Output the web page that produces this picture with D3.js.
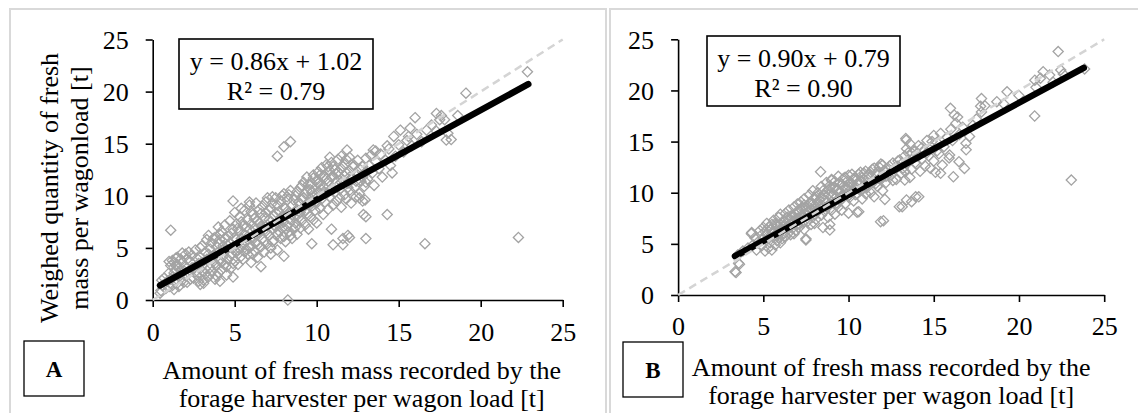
<!DOCTYPE html>
<html>
<head>
<meta charset="utf-8">
<script src="https://cdn.jsdelivr.net/npm/d3@7"></script>
<style>
  body { margin: 0; background: #fff; }
  svg { display: block; }
  text { font-family: "Liberation Serif", "Times New Roman", serif; fill: #000; }
</style>
</head>
<body>
<svg id="chart" width="1138" height="413"></svg>
<script>
// Axis ticks shared by both panels (t)
const axisTicks = [0, 5, 10, 15, 20, 25];

// Panel A: harvester-recorded mass (x) vs weighed mass (y), t
const pointsA = [
  [0.5,0.9],[0.6,1.4],[0.7,2.1],[0.8,1.1],[0.9,1.8],[1.0,2.6],[1.0,1.3],[1.1,3.3],[1.2,3.8],[1.2,2.2],
  [1.3,3.6],[1.3,1.0],[1.4,4.0],[1.4,2.9],[1.5,1.6],[1.5,3.4],[1.6,2.4],[1.7,3.9],[1.8,1.9],[1.9,2.8],
  [2.0,4.4],[2.0,3.2],[2.1,1.7],[2.2,2.6],[2.3,3.7],[2.4,4.3],[2.5,2.1],[2.5,3.0],[2.6,4.8],[2.7,2.4],
  [2.8,3.5],[2.9,1.5],[2.9,4.1],[3.0,2.8],[3.0,5.2],[3.1,3.4],[3.1,1.9],[3.2,4.6],[3.2,2.5],[3.3,5.8],
  [3.3,3.9],[3.4,2.2],[3.4,6.2],[3.5,3.1],[3.5,4.9],[3.6,2.7],[3.6,5.5],[3.7,3.7],[3.7,4.3],[3.8,2.0],
  [3.8,6.0],[3.9,3.3],[3.9,5.1],[4.0,2.6],[4.0,4.6],[4.0,7.0],[4.1,3.8],[4.1,5.8],[4.2,2.9],[4.2,6.6],
  [4.3,4.2],[4.3,5.2],[4.4,3.4],[4.4,7.2],[4.5,4.8],[4.5,2.4],[4.6,6.1],[4.6,3.9],[4.7,5.5],[4.7,7.6],
  [4.8,4.4],[4.8,3.1],[4.9,6.8],[4.9,5.0],[5.0,3.7],[5.0,8.4],[5.0,6.0],[5.1,4.6],[5.1,7.3],[5.2,5.4],
  [5.2,3.4],[5.3,6.6],[5.3,8.0],[5.4,4.2],[5.4,5.9],[5.5,7.1],[5.5,3.9],[5.6,6.3],[5.6,8.6],[5.7,4.9],
  [5.7,5.6],[5.8,7.7],[5.8,4.4],[5.9,6.8],[5.9,9.1],[6.0,5.2],[6.0,7.3],[6.0,3.6],[6.1,6.0],[6.1,8.2],
  [6.2,4.7],[6.2,6.9],[6.3,5.5],[6.3,9.3],[6.4,7.6],[6.4,4.1],[6.5,6.4],[6.5,8.7],[6.6,5.1],[6.6,7.1],
  [6.7,5.9],[6.7,9.0],[6.8,4.6],[6.8,7.9],[6.9,6.6],[6.9,8.4],[7.0,5.4],[7.0,7.2],[7.0,9.8],[7.1,6.2],
  [7.1,8.6],[7.2,5.0],[7.2,7.5],[7.3,9.3],[7.3,6.8],[7.4,5.7],[7.4,8.1],[7.5,7.0],[7.5,9.8],[7.6,6.3],
  [7.6,4.8],[7.7,8.5],[7.7,7.4],[7.8,5.9],[7.8,9.5],[7.9,6.9],[7.9,8.0],[8.0,10.2],[8.0,7.5],[8.0,6.1],
  [8.1,8.8],[8.1,5.6],[8.2,7.1],[8.2,9.6],[8.3,6.5],[8.3,8.3],[8.4,10.5],[8.4,7.7],[8.5,5.9],[8.5,9.1],
  [8.6,8.0],[8.6,6.8],[8.7,10.0],[8.7,7.4],[8.8,8.7],[8.8,6.3],[8.9,9.4],[8.9,7.9],[9.0,10.8],[9.0,8.4],
  [9.0,6.9],[9.1,9.7],[9.1,7.6],[9.2,11.3],[9.2,8.9],[9.3,7.2],[9.3,10.2],[9.4,8.3],[9.4,11.8],[9.5,9.4],
  [9.5,6.8],[9.6,10.6],[9.6,8.0],[9.7,11.2],[9.7,9.0],[9.8,7.7],[9.8,12.0],[9.9,10.0],[9.9,8.6],[10.0,11.5],
  [10.0,9.3],[10.0,7.4],[10.1,10.4],[10.1,12.3],[10.2,8.8],[10.2,11.0],[10.3,9.7],[10.3,12.7],[10.4,8.2],[10.4,10.9],
  [10.5,11.8],[10.5,9.4],[10.6,13.0],[10.6,10.2],[10.7,8.7],[10.7,11.4],[10.8,12.4],[10.8,9.9],[10.9,10.7],[10.9,13.2],
  [11.0,9.1],[11.0,11.9],[11.0,12.8],[11.1,10.3],[11.2,12.1],[11.2,9.5],[11.3,11.0],[11.3,13.5],[11.4,10.6],[11.5,12.6],
  [11.5,8.9],[11.6,11.5],[11.7,13.0],[11.7,10.1],[11.8,12.2],[11.8,9.7],[11.9,11.2],[12.0,13.7],[12.0,10.5],[12.0,12.4],
  [12.1,9.3],[12.2,11.7],[12.3,12.9],[12.3,10.8],[12.4,9.9],[12.5,12.0],[12.5,13.4],[12.6,10.2],[12.7,11.4],[12.8,12.8],
  [12.8,9.5],[12.9,10.9],[13.0,12.3],[13.0,13.6],[13.1,11.6],[13.2,12.9],[13.3,13.9],[13.4,12.2],[13.5,11.0],[13.6,13.3],
  [13.8,12.6],[13.9,14.0],[14.0,11.8],[14.2,13.4],[14.4,14.5],[14.5,12.9],[14.8,13.8],[15.0,14.9],[15.3,14.2],[15.5,15.3],
  [15.8,14.8],[16.1,15.9],[16.4,15.2],[16.7,16.3],[17.0,16.8],[17.3,16.2],[17.5,17.3],
  [1.0,3.7],[1.1,2.0],[1.2,1.4],[1.3,2.6],[1.4,3.3],[1.5,4.1],[1.6,1.3],[1.7,2.9],[1.8,3.6],[1.9,1.7],
  [2.0,2.3],[2.1,3.9],[2.2,4.6],[2.3,2.0],[2.4,3.1],[2.6,2.7],[2.7,4.0],[2.8,1.8],[2.9,5.0],[3.0,3.6],
  [3.2,3.0],[3.4,4.4],[3.5,2.5],[3.6,4.0],[3.7,5.9],[3.8,3.5],[3.9,2.3],[4.0,5.4],[4.1,6.3],[4.2,3.6],
  [4.3,4.8],[4.4,5.9],[4.5,3.2],[4.6,5.2],[4.7,4.2],[4.8,6.4],[4.9,3.5],[5.0,4.8],[5.1,5.8],[5.2,6.9],
  [5.3,4.9],[5.4,7.5],[5.5,5.3],[5.6,4.6],[5.7,7.0],[5.8,6.1],[5.9,5.0],[6.0,8.5],[6.1,4.4],[6.2,7.8],
  [6.3,6.3],[6.4,5.3],[6.5,7.4],[6.6,8.3],[6.7,6.9],[6.8,5.6],[6.9,9.4],[7.0,6.4],[7.1,7.7],[7.2,8.8],
  [7.3,5.6],[7.4,7.2],[7.5,8.4],[7.6,9.1],[7.7,6.6],[7.8,7.8],[7.9,10.0],[8.0,8.9],[8.1,6.8],[8.2,8.5],
  [8.3,10.1],[8.4,6.2],[8.5,8.2],[8.6,9.6],[8.7,7.0],[8.8,10.4],[8.9,8.5],[9.0,9.2],[9.1,11.0],[9.2,9.8],
  [9.3,8.6],[9.4,10.5],[9.5,11.1],[9.6,9.3],[9.7,10.3],[9.8,11.7],[9.9,9.4],[10.0,10.1],[10.1,11.2],[10.2,12.0],
  [10.3,10.6],[10.4,11.9],[10.5,10.3],[10.6,11.6],[10.7,12.8],[10.8,10.5],[10.9,11.8],[11.0,10.6],[11.1,12.5],[11.2,11.4],
  [11.3,12.3],[11.4,9.8],[11.5,11.3],[11.6,12.8],[11.7,11.9],[11.8,13.5],[11.9,10.8],[12.0,11.8],[12.2,12.8],[12.4,11.4],
  [12.6,12.6],[12.8,11.8],[13.0,11.3],
  [1.1,6.7],[8.24,0.0],[16.6,5.4],[22.3,6.0],[22.85,21.9],[19.1,19.85],[18.6,17.7],[18.0,16.0],[18.2,15.4],[17.3,17.9],
  [17.6,17.7],[17.8,17.3],[17.9,15.35],[16.0,17.5],[15.7,16.5],[15.1,16.3],[15.6,15.7],[14.7,15.7],[14.6,12.2],[14.3,14.8],
  [14.3,8.2],[13.6,14.3],[13.45,14.4],[8.4,15.2],[8.0,14.7],[7.6,13.8],[11.85,14.4],[11.5,13.8],[10.8,13.7],[13.0,5.9],
  [12.0,6.0],[11.6,5.3],[11.0,5.3],[10.9,6.8],[9.7,5.4],[8.0,4.2],[7.2,4.4],[6.6,3.2],[12.85,8.2],[12.95,9.6],
  [4.9,9.5],[5.9,9.4],[5.4,8.8],[7.3,9.9],[8.2,9.9],[1.8,4.5],[0.45,0.65],[0.55,1.9],[3.1,1.6],[4.9,2.2],
  [4.1,1.8],[12.6,9.8],[13.0,8.0],[11.6,5.9],[11.9,6.2]
];

// Panel B: harvester-recorded mass (x) vs weighed mass (y), t
const pointsB = [
  [3.4,2.2],[3.6,3.0],[3.5,3.9],[3.8,4.3],[4.1,4.6],[4.3,6.0],[4.4,4.9],[4.5,5.6],[4.6,4.4],[4.7,5.2],
  [4.8,6.3],[4.9,4.8],[5.0,5.5],[5.0,6.6],[5.1,4.3],[5.2,5.9],[5.2,7.0],[5.3,4.6],[5.4,6.4],[5.4,5.1],
  [5.5,6.9],[5.5,4.4],[5.6,5.7],[5.6,7.3],[5.7,4.9],[5.7,6.2],[5.8,6.8],[5.8,5.3],[5.9,7.6],[5.9,6.0],
  [6.0,5.1],[6.0,6.9],[6.0,7.9],[6.1,6.4],[6.1,5.5],[6.2,7.3],[6.2,6.0],[6.3,8.0],[6.3,5.7],[6.4,6.7],
  [6.4,7.6],[6.5,6.1],[6.5,8.3],[6.6,7.0],[6.6,5.9],[6.7,7.8],[6.7,6.5],[6.8,8.6],[6.8,7.2],[6.9,6.3],
  [6.9,7.9],[7.0,8.9],[7.0,6.9],[7.0,7.5],[7.1,8.2],[7.1,6.6],[7.2,7.7],[7.2,9.1],[7.3,7.0],[7.3,8.5],
  [7.4,6.4],[7.4,9.4],[7.5,7.9],[7.5,5.5],[7.6,8.7],[7.6,7.2],[7.7,9.8],[7.7,8.1],[7.8,6.9],[7.8,9.0],
  [7.9,7.6],[7.9,10.2],[8.0,8.4],[8.0,7.0],[8.0,9.5],[8.1,8.9],[8.1,7.4],[8.2,10.0],[8.2,8.2],[8.3,9.3],
  [8.4,7.8],[8.4,10.6],[8.5,8.7],[8.5,6.6],[8.6,9.8],[8.6,8.2],[8.7,11.0],[8.7,9.1],[8.8,7.6],[8.8,10.3],
  [8.9,8.8],[8.9,6.9],[9.0,9.7],[9.0,11.3],[9.0,8.3],[9.1,10.5],[9.1,9.0],[9.2,7.9],[9.2,11.1],[9.3,9.6],
  [9.3,10.2],[9.4,8.6],[9.4,11.6],[9.5,10.0],[9.5,9.2],[9.6,10.8],[9.6,8.3],[9.7,11.4],[9.7,9.7],[9.8,10.4],
  [9.8,8.9],[9.9,11.1],[9.9,9.9],[10.0,10.6],[10.0,8.0],[10.0,11.7],[10.1,9.6],[10.2,10.9],[10.2,11.8],[10.3,9.2],
  [10.4,10.4],[10.4,11.4],[10.5,9.9],[10.5,8.1],[10.6,11.0],[10.7,10.2],[10.7,12.0],[10.8,9.4],[10.8,11.5],[10.9,10.7],
  [11.0,12.1],[11.0,9.9],[11.0,11.2],[11.1,10.5],[11.2,11.8],[11.3,10.0],[11.4,12.3],[11.5,11.1],[11.5,9.6],[11.6,11.9],
  [11.7,10.6],[11.8,12.5],[11.9,11.3],[12.0,10.2],[12.0,12.7],[12.0,11.6],[12.2,11.0],[12.3,12.2],[12.5,11.7],[12.6,12.9],
  [12.8,11.3],[12.9,12.6],[13.0,13.2],[13.1,11.9],[13.2,12.4],[13.3,13.6],[13.4,14.3],[13.4,12.8],[13.5,13.9],[13.6,11.5],
  [13.6,14.8],[13.7,12.3],[13.8,13.4],[13.9,14.1],[14.0,12.8],[14.0,13.8],[14.1,14.6],[14.2,12.1],[14.3,13.3],[14.4,14.0],
  [14.5,12.6],[14.6,15.1],[14.7,13.6],[14.8,12.4],[14.9,14.4],[15.0,15.6],[15.0,13.1],[15.1,12.0],[15.2,14.9],[15.3,13.8],
  [15.4,15.8],[15.5,12.7],[15.6,14.5],[15.8,15.4],[15.9,13.4],[16.0,16.2],[16.1,15.1],[16.3,16.8],[16.5,15.7],[16.7,16.4],
  [16.9,14.2],[17.1,15.5],[17.3,16.6],[17.5,17.2],[17.8,17.9],[18.0,18.5],
  [4.9,5.9],[5.1,6.2],[5.3,5.5],[5.5,6.1],[5.7,7.0],[5.9,5.6],[6.0,6.3],[6.2,6.7],[6.3,7.0],[6.5,7.3],
  [6.6,7.7],[6.7,7.1],[6.8,6.0],[6.9,7.4],[7.0,8.2],[7.1,7.3],[7.2,8.4],[7.3,7.8],[7.4,8.8],[7.5,8.3],
  [7.6,7.8],[7.7,9.0],[7.8,8.3],[7.9,8.9],[8.0,7.9],[8.1,9.6],[8.2,9.1],[8.3,8.6],[8.4,9.6],[8.5,10.2],
  [8.6,9.2],[8.7,8.6],[8.8,9.8],[8.9,10.7],[9.0,9.1],[9.1,9.9],[9.2,10.5],[9.3,9.0],[9.4,10.3],[9.5,11.0],
  [9.6,9.7],[9.7,10.6],[9.8,11.5],[9.9,10.5],[10.0,9.7],[10.1,11.0],[10.2,10.2],[10.3,11.4],[10.4,9.8],[10.5,10.9],
  [10.6,11.8],[10.7,11.1],[10.8,10.3],[10.9,11.9],[11.0,10.6],[11.1,11.6],[11.2,10.9],[11.3,12.0],[11.4,11.1],[11.5,12.4],
  [11.6,10.9],[11.7,12.0],[11.8,11.4],[11.9,12.8],[12.1,12.2],[12.2,11.6],[12.4,12.6],[12.6,11.2],[12.7,12.4],[12.9,13.1],
  [13.1,12.8],[13.3,12.1],[13.5,13.2],[13.7,13.9],[13.9,12.9],[14.1,13.6],[14.3,14.4],[14.6,13.9],[14.9,15.0],[15.2,14.1],
  [3.34,2.28],[3.55,3.1],[4.32,6.1],[5.33,6.68],[5.72,6.84],[7.5,5.38],[8.36,12.05],[9.0,11.2],[12.13,9.35],[12.05,7.26],
  [13.15,8.63],[13.7,9.12],[14.12,9.6],[13.38,15.15],[22.3,23.8],[23.85,22.1],[22.45,22.0],[20.92,17.5],[23.07,11.24],[21.26,21.2],
  [20.93,21.0],[21.42,21.83],[21.8,21.5],[19.3,19.87],[18.7,18.9],[17.8,19.2],[17.75,18.45],[19.1,18.7],[15.98,18.25],[16.2,17.6],
  [16.4,17.4],[16.89,14.83],[16.8,12.38],[16.48,13.03],[15.93,13.68],[16.15,11.56],[15.4,11.9],[13.36,15.3],[11.88,7.17],[12.98,8.63],
  [13.4,9.29],[13.94,9.6],[13.3,11.24],[8.9,6.35],[10.6,8.14],[20.0,19.5],[21.0,20.3],[22.0,20.8],[22.6,21.6]
];

// Linear fits: [slope, intercept, R², first x, last x]
const fitA = [0.86, 1.02, 0.79, 0.45, 22.9];
const fitB = [0.90, 0.79, 0.90, 3.34, 23.8];

const xTitle = ["Amount of fresh mass recorded by the", "forage harvester per wagon load [t]"];
const yTitle = ["Weighed quantity of fresh", "mass per wagonload [t]"];
const panelTags = ["A", "B"];

const svg = d3.select("#chart");
const FONT = 26;

// panel frames
const frame = svg.append("g").attr("fill", "none").attr("stroke", "#d9d9d9").attr("stroke-width", 2);
frame.append("path").attr("d", "M10,413V9H606V413");
frame.append("path").attr("d", "M610,413V9H1138");

// hollow diamond marker
const diamond = {
  draw(ctx, size) {
    const r = Math.sqrt(size / 2);
    ctx.moveTo(0, -r); ctx.lineTo(r, 0); ctx.lineTo(0, r); ctx.lineTo(-r, 0); ctx.closePath();
  }
};

function drawPanel(opt) {
  const x = d3.scaleLinear().domain([0, 25]).range([opt.left, opt.right]);
  const y = d3.scaleLinear().domain([0, 25]).range([opt.bottom, opt.top]);
  const g = svg.append("g");

  // x axis
  const xa = g.append("g")
    .attr("transform", `translate(0,${opt.bottom})`)
    .call(d3.axisBottom(x).tickValues(axisTicks).tickSize(7).tickSizeOuter(0).tickFormat(d3.format("d")));
  xa.selectAll("text").attr("y", opt.xTickY).attr("dy", null)
    .style("font-size", FONT + "px").style("font-family", "Liberation Serif");

  // y axis
  const ya = g.append("g")
    .attr("transform", `translate(${opt.left},0)`)
    .call(d3.axisLeft(y).tickValues(axisTicks).tickSize(7).tickSizeOuter(0).tickPadding(17).tickFormat(d3.format("d")));
  ya.selectAll("text").attr("dy", "0.34em")
    .style("font-size", FONT + "px").style("font-family", "Liberation Serif");

  g.selectAll(".domain, .tick line").attr("stroke", "#000").attr("stroke-width", 1.6);

  // observations
  g.append("g").selectAll("path").data(opt.points).join("path")
    .attr("d", d3.symbol(diamond, 52))
    .attr("transform", d => `translate(${x(d[0])},${y(d[1])})`)
    .attr("fill", "none").attr("stroke", "#a3a3a3").attr("stroke-width", 1.3);

  // regression line
  const [m, b, r2, x0, x1] = opt.fit;
  const line = d3.line().x(d => x(d[0])).y(d => y(d[1]));
  g.append("path").datum([[x0, m * x0 + b], [x1, m * x1 + b]])
    .attr("d", line).attr("stroke", "#000").attr("stroke-width", 6.5)
    .attr("stroke-linecap", "round").attr("fill", "none");

  // 1:1 reference line
  g.append("path").datum([[0, 0], [25, 25]])
    .attr("d", line).attr("stroke", "#d4d4d4").attr("stroke-width", 2.5)
    .attr("stroke-dasharray", "8,5").attr("fill", "none");

  // equation box
  const eb = opt.eqBox;
  g.append("rect").attr("x", eb[0]).attr("y", eb[1]).attr("width", eb[2]).attr("height", eb[3])
    .attr("fill", "#fff").attr("stroke", "#000").attr("stroke-width", 1.6);
  const cx = eb[0] + eb[2] / 2;
  g.append("text").attr("x", cx).attr("y", eb[1] + 31).attr("text-anchor", "middle")
    .style("font-size", FONT + "px")
    .text(`y = ${m.toFixed(2)}x + ${b.toFixed(2)}`);
  g.append("text").attr("x", cx).attr("y", eb[1] + 61).attr("text-anchor", "middle")
    .style("font-size", FONT + "px")
    .text(`R² = ${r2.toFixed(2)}`);

  // x title
  const xc = (opt.left + opt.right) / 2 + opt.xTitleShift;
  xTitle.forEach((t, i) => {
    g.append("text").attr("x", xc).attr("y", opt.xTitleY + i * 28).attr("text-anchor", "middle")
      .style("font-size", FONT + "px").text(t);
  });

  // panel tag
  const tb = opt.tagBox;
  g.append("rect").attr("x", tb[0]).attr("y", tb[1]).attr("width", tb[2]).attr("height", tb[3])
    .attr("fill", "#fff").attr("stroke", "#000").attr("stroke-width", 1.3);
  g.append("text").attr("x", tb[0] + tb[2] / 2).attr("y", tb[1] + tb[3] / 2 + 8)
    .attr("text-anchor", "middle").style("font-size", "23px").style("font-weight", "bold")
    .text(opt.tag);

  return g;
}

drawPanel({
  left: 152.7, right: 562.7, top: 39.5, bottom: 300,
  points: pointsA, fit: fitA, tag: panelTags[0],
  eqBox: [179, 39, 194, 70], tagBox: [24, 341, 60, 55],
  xTickY: 41, xTitleY: 379, xTitleShift: 4
});

drawPanel({
  left: 678.1, right: 1104.2, top: 39.3, bottom: 295,
  points: pointsB, fit: fitB, tag: panelTags[1],
  eqBox: [707, 36, 193, 70], tagBox: [623, 342, 60, 55],
  xTickY: 40, xTitleY: 376, xTitleShift: 0
});

// y title (panel A only)
yTitle.forEach((t, i) => {
  svg.append("text")
    .attr("transform", `translate(${58 + i * 30},188) rotate(-90)`)
    .attr("text-anchor", "middle")
    .style("font-size", FONT + "px")
    .text(t);
});
</script>
</body>
</html>
